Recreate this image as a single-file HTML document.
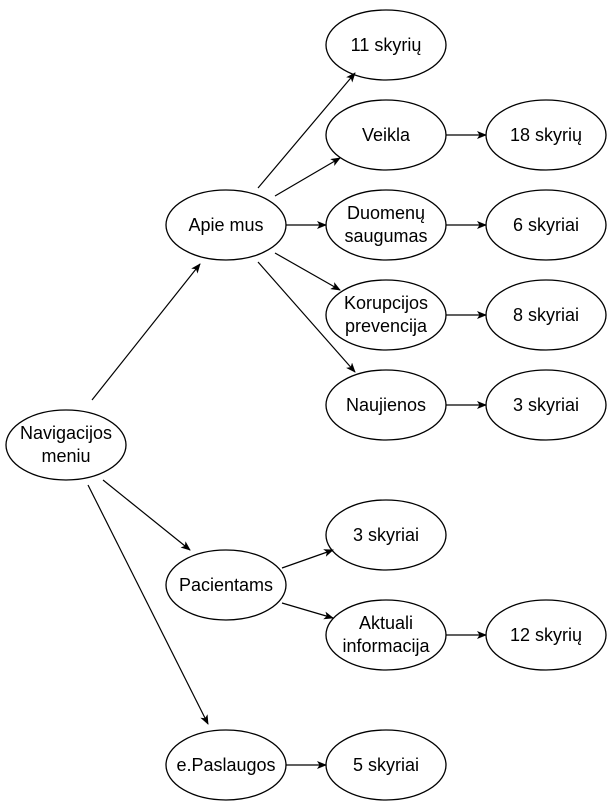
<!DOCTYPE html>
<html><head><meta charset="utf-8"><style>
html,body{margin:0;padding:0;background:#fff;}
svg{display:block;}
text{font-family:"Liberation Sans",Arial,sans-serif;font-size:18px;fill:#000;}
</style></head><body>
<svg width="611" height="805" viewBox="0 0 611 805" xmlns="http://www.w3.org/2000/svg">
<defs><marker id="a" markerWidth="10" markerHeight="8" refX="9" refY="4" orient="auto" markerUnits="userSpaceOnUse"><path d="M0,0 L10,4 L0,8 L2.5,4 Z" fill="#000"/></marker></defs>
<g fill="#fff" stroke="#000" stroke-width="1.3">
<ellipse cx="66" cy="445" rx="60" ry="35"/>
<ellipse cx="226" cy="225" rx="60" ry="35"/>
<ellipse cx="226" cy="585" rx="60" ry="35"/>
<ellipse cx="226" cy="765" rx="60" ry="35"/>
<ellipse cx="386" cy="45" rx="60" ry="35"/>
<ellipse cx="386" cy="135" rx="60" ry="35"/>
<ellipse cx="386" cy="225" rx="60" ry="35"/>
<ellipse cx="386" cy="315" rx="60" ry="35"/>
<ellipse cx="386" cy="405" rx="60" ry="35"/>
<ellipse cx="546" cy="135" rx="60" ry="35"/>
<ellipse cx="546" cy="225" rx="60" ry="35"/>
<ellipse cx="546" cy="315" rx="60" ry="35"/>
<ellipse cx="546" cy="405" rx="60" ry="35"/>
<ellipse cx="386" cy="535" rx="60" ry="35"/>
<ellipse cx="386" cy="635" rx="60" ry="35"/>
<ellipse cx="546" cy="635" rx="60" ry="35"/>
<ellipse cx="386" cy="765" rx="60" ry="35"/>
</g>
<g stroke="#000" stroke-width="1.2" marker-end="url(#a)">
<line x1="92" y1="400" x2="200" y2="264"/>
<line x1="103" y1="480" x2="190" y2="550"/>
<line x1="88" y1="485" x2="208" y2="724"/>
<line x1="258" y1="188" x2="355" y2="73"/>
<line x1="275" y1="196" x2="340" y2="158"/>
<line x1="286" y1="225" x2="326" y2="225"/>
<line x1="275" y1="253" x2="340" y2="290"/>
<line x1="258" y1="262" x2="355" y2="372"/>
<line x1="446" y1="135" x2="486" y2="135"/>
<line x1="446" y1="225" x2="486" y2="225"/>
<line x1="446" y1="315" x2="486" y2="315"/>
<line x1="446" y1="405" x2="486" y2="405"/>
<line x1="282" y1="568" x2="333" y2="550"/>
<line x1="282" y1="603" x2="333" y2="618"/>
<line x1="446" y1="635" x2="486" y2="635"/>
<line x1="286" y1="765" x2="326" y2="765"/>
</g>
<g text-anchor="middle">
<text x="66" y="439">Navigacijos</text><text x="66" y="462">meniu</text>
<text x="226" y="231">Apie mus</text>
<text x="226" y="591">Pacientams</text>
<text x="226" y="771">e.Paslaugos</text>
<text x="386" y="51">11 skyrių</text>
<text x="386" y="141">Veikla</text>
<text x="386" y="219">Duomenų</text><text x="386" y="242">saugumas</text>
<text x="386" y="309">Korupcijos</text><text x="386" y="332">prevencija</text>
<text x="386" y="411">Naujienos</text>
<text x="546" y="141">18 skyrių</text>
<text x="546" y="231">6 skyriai</text>
<text x="546" y="321">8 skyriai</text>
<text x="546" y="411">3 skyriai</text>
<text x="386" y="541">3 skyriai</text>
<text x="386" y="629">Aktuali</text><text x="386" y="652">informacija</text>
<text x="546" y="641">12 skyrių</text>
<text x="386" y="771">5 skyriai</text>
</g>
</svg>
</body></html>
